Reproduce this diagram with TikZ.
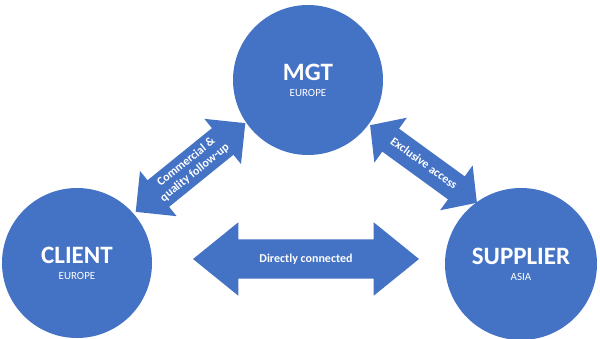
\documentclass[tikz,border=0pt]{standalone}
\usepackage{fontspec}
\setmainfont{Carlito}
\usepackage{tikz}
\usetikzlibrary{shapes.arrows}
\definecolor{hubblue}{HTML}{4472C4}

\tikzset{
  hub/.style={circle,fill=hubblue,text=white,minimum size=150pt,inner sep=0pt,align=center},
  flow/.style={double arrow,fill=hubblue,text=white,font=\fontsize{12}{13.5}\selectfont\bfseries,
    align=center,inner xsep=0pt},
  oneline/.style={text height=8.5pt,text depth=2.5pt}
}
\newcommand{\hubname}[2]{{\fontsize{25}{27}\selectfont\bfseries #1}\\[4pt]{\fontsize{11}{13}\selectfont #2}}

\begin{document}
\begin{tikzpicture}[x=1pt,y=-1pt]
\useasboundingbox (0,0) rectangle (600,338);

% the three parties
\node[hub] (mgt) at (308,80) {\hubname{MGT}{EUROPE}};
\node[hub] (client) at (77,263) {\hubname{CLIENT}{EUROPE}};
\node[hub,minimum size=152pt] (supplier) at (521,264) {\hubname{SUPPLIER}{ASIA}};

% links between them
\node[flow,rotate=39,minimum height=141pt,inner ysep=5pt,
      double arrow head extend=12pt,double arrow tip angle=90] (follow) at (190.5,167.5)
      {Commercial \&\\quality follow-up};
\node[flow,oneline,rotate=-36,minimum height=132pt,inner ysep=8.5pt,
      double arrow head extend=13.5pt,double arrow tip angle=95] (access) at (423.5,164)
      {Exclusive access};
\node[flow,oneline,minimum height=226pt,inner ysep=14pt,
      double arrow head extend=17pt,double arrow tip angle=78] (direct) at (306,259)
      {Directly connected};
\end{tikzpicture}
\end{document}
